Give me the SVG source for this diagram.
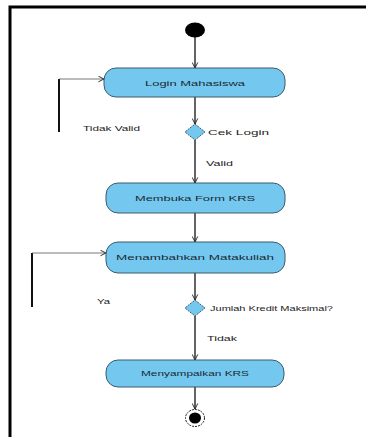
<svg xmlns="http://www.w3.org/2000/svg" width="366" height="437" viewBox="0 0 366 437">
  <style>
    .frame { stroke: #000; stroke-width: 3; fill: none; }
    .act rect { fill: #74C8EF; stroke: #3d5a6a; stroke-width: 1; }
    .act text { font-family: "Liberation Sans", Arial, sans-serif; font-size: 8px; fill: #1a2a33; text-anchor: middle; }
    .dec polygon { fill: #74C8EF; stroke: #3d5a6a; stroke-width: 1; stroke-dasharray: 2 1; }
    .lbl { font-family: "Liberation Sans", Arial, sans-serif; font-size: 8px; fill: #222; }
    .flow { stroke: #222; stroke-width: 1.4; fill: none; marker-end: url(#open); }
    .back { stroke: #555; stroke-width: 0.8; fill: none; marker-end: url(#open); }
    .bar { stroke: #111; stroke-width: 2; fill: none; }
  </style>
  <defs>
    <marker id="open" viewBox="0 0 10 10" refX="9" refY="5" markerWidth="7" markerHeight="7" orient="auto" markerUnits="userSpaceOnUse">
      <path d="M1,1 L9,5 L1,9" fill="none" stroke="#222" stroke-width="1.3"/>
    </marker>
  </defs>

  <!-- page frame: top and left edges -->
  <path class="frame" d="M10,437 V7 H366"/>

  <g id="connectors">
    <line class="flow" x1="195" y1="37" x2="195" y2="68"/>
    <line class="flow" x1="195" y1="97" x2="195" y2="124"/>
    <line class="flow" x1="195" y1="140" x2="195" y2="183"/>
    <line class="flow" x1="195" y1="213" x2="195" y2="242"/>
    <line class="flow" x1="195" y1="273" x2="195" y2="300"/>
    <line class="flow" x1="195" y1="316" x2="195" y2="360"/>
    <line class="flow" x1="195" y1="386" x2="195" y2="409"/>
    <!-- invalid login loops back -->
    <line class="bar" x1="59" y1="79" x2="59" y2="132"/>
    <line class="back" x1="59" y1="79" x2="104" y2="79"/>
    <!-- credit limit not reached loops back -->
    <line class="bar" x1="32" y1="253" x2="32" y2="307"/>
    <line class="back" x1="32" y1="253" x2="106" y2="253"/>
    <text class="lbl" x="83" y="131" textLength="57" lengthAdjust="spacingAndGlyphs">Tidak Valid</text>
    <text class="lbl" x="206" y="166" textLength="27" lengthAdjust="spacingAndGlyphs">Valid</text>
    <text class="lbl" x="97" y="304" textLength="13" lengthAdjust="spacingAndGlyphs">Ya</text>
    <text class="lbl" x="207" y="341" textLength="30" lengthAdjust="spacingAndGlyphs">Tidak</text>
  </g>

  <g id="start">
    <ellipse cx="195" cy="30" rx="10" ry="7.5" fill="#000"/>
  </g>

  <g id="login" class="act">
    <rect x="104" y="68" width="181" height="29" rx="12"/>
    <text x="195" y="86" textLength="100" lengthAdjust="spacingAndGlyphs">Login Mahasiswa</text>
  </g>

  <g id="cek-login" class="dec">
    <polygon points="195,124 205,132 195,140 185,132"/>
    <text class="lbl" x="208" y="135" textLength="61" lengthAdjust="spacingAndGlyphs">Cek Login</text>
  </g>

  <g id="form-krs" class="act">
    <rect x="106" y="183" width="179" height="30" rx="12"/>
    <text x="195" y="201" textLength="120" lengthAdjust="spacingAndGlyphs">Membuka Form KRS</text>
  </g>

  <g id="tambah-mk" class="act">
    <rect x="106" y="242" width="179" height="31" rx="12"/>
    <text x="195" y="260" textLength="158" lengthAdjust="spacingAndGlyphs">Menambahkan Matakuliah</text>
  </g>

  <g id="cek-kredit" class="dec">
    <polygon points="195,300 205,308 195,316 185,308"/>
    <text class="lbl" x="210" y="311" textLength="123" lengthAdjust="spacingAndGlyphs">Jumlah Kredit Maksimal?</text>
  </g>

  <g id="kirim-krs" class="act">
    <rect x="106" y="360" width="178" height="27" rx="12"/>
    <text x="195" y="376" textLength="108" lengthAdjust="spacingAndGlyphs">Menyampaikan KRS</text>
  </g>

  <g id="end">
    <ellipse cx="195" cy="418" rx="9.5" ry="8.5" fill="#fff" stroke="#222" stroke-width="1" stroke-dasharray="2 1"/>
    <ellipse cx="195" cy="418" rx="6" ry="5.5" fill="#000"/>
  </g>
</svg>
